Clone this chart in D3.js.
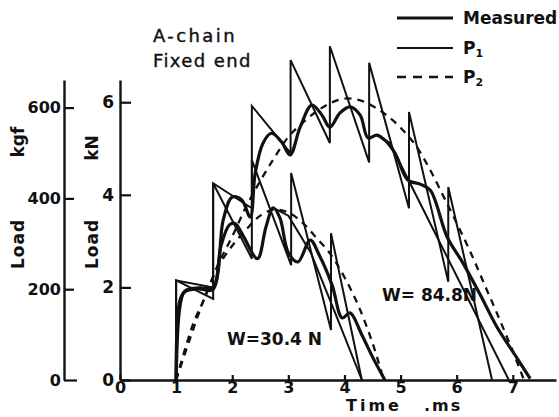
<!DOCTYPE html>
<html>
<head>
<meta charset="utf-8">
<script src="https://cdn.jsdelivr.net/npm/d3@7"></script>
<style>
  body { margin: 0; background: #fff; }
  svg text { font-family: "DejaVu Sans", sans-serif; fill: #111; }
</style>
</head>
<body>
<svg width="559" height="417"></svg>
<script>
// time (ms) and load (kN)
const measured30 = [[1.0,0],[1.07,1.6],[1.15,1.9],[1.4,1.97],[1.65,1.95],[1.8,2.9],[1.95,3.35],[2.05,3.38],
  [2.2,3.1],[2.45,2.62],[2.6,3.3],[2.73,3.72],[2.85,3.5],[3.0,2.75],[3.17,2.55],[3.39,3.02],[3.55,2.7],
  [3.78,2.05],[3.96,1.34],[4.1,1.45],[4.3,1.0],[4.5,0.5],[4.72,0]];
const p1_30 = [[1,0],[1,2.15],[1.66,1.75],[1.66,4.25],[2.35,2.62],[2.35,4.75],[3.05,2.48],[3.05,4.47],
  [3.76,1.08],[3.76,3.17],[4.31,0]];
const p1b_30 = [[2.73,3.72],[3.0,3.55],[3.4,2.75],[3.8,1.55],[4.31,0]];
const p2_30 = [[1,0],[1.25,0.9],[1.5,1.75],[1.75,2.45],[2.0,2.9],[2.25,3.25],[2.5,3.55],[2.75,3.68],
  [3.0,3.62],[3.25,3.4],[3.5,3.07],[3.75,2.72],[4.0,2.22],[4.25,1.6],[4.5,0.8],[4.7,0]];

const measured84 = [[1.0,0],[1.07,1.73],[1.18,1.94],[1.43,1.99],[1.66,2.0],[1.84,3.46],[2.0,3.95],[2.17,3.89],
  [2.32,3.52],[2.41,4.47],[2.55,5.12],[2.7,5.33],[2.88,5.14],[3.03,4.86],[3.21,5.46],[3.42,5.94],[3.6,5.72],
  [3.74,5.46],[3.92,5.77],[4.1,5.9],[4.28,5.72],[4.42,5.23],[4.58,5.29],[4.72,5.18],[4.9,4.9],[5.13,4.32],
  [5.35,4.23],[5.53,4.1],[5.83,3.09],[6.11,2.53],[6.42,1.84],[6.72,1.14],[7.04,0.54],[7.31,0.03]];
const p1_84 = [[1,0],[1,2.15],[1.66,2.0],[1.66,4.25],[2.35,3.71],[2.35,5.92],[3.04,4.9],[3.04,6.91],
  [3.74,5.12],[3.74,7.21],[4.44,4.7],[4.44,6.85],[5.15,3.71],[5.15,5.79],[5.85,2.12],[5.85,4.17],[6.63,0]];
const p1b_84 = [[4.58,5.29],[4.81,5.12],[5.65,3.09],[6.93,0]];
const p2_84 = [[1,0],[1.3,1.2],[1.5,1.75],[1.75,2.5],[2.0,3.1],[2.25,3.75],[2.5,4.3],[2.75,4.8],[3.0,5.25],
  [3.25,5.55],[3.5,5.8],[3.75,5.98],[4.0,6.08],[4.25,6.05],[4.5,5.92],[4.75,5.72],[5.0,5.45],[5.25,5.1],
  [5.5,4.6],[5.75,4.0],[6.0,3.39],[6.25,2.75],[6.5,2.05],[6.75,1.35],[7.0,0.62],[7.2,0]];

const timeTicks = [0,1,2,3,4,5,6,7];
const kNTicks = [0,2,4,6];
const kgfTicks = [0,200,400,600];
const legendItems = ["Measured", "P1", "P2"];

const svg = d3.select("svg");

const x = d3.scaleLinear().domain([0, 7.77]).range([120, 556]);
const y = d3.scaleLinear().domain([0, 6.48]).range([380, 80]);
// 1 kgf = 9.80665 N
const kgf = d3.scaleLinear().domain([0, 6.48 * 1000 / 9.80665]).range([380, 80]);

const bold = sel => sel.attr("font-weight", "bold").attr("font-size", 16);

// axes
const xAxis = svg.append("g").attr("transform", "translate(0,380)")
  .call(d3.axisBottom(x).tickValues(timeTicks).tickSize(-5).tickSizeOuter(0).tickPadding(2));
const yAxis = svg.append("g").attr("transform", "translate(120,0)")
  .call(d3.axisLeft(y).tickValues(kNTicks).tickFormat(d3.format("d")).tickSize(-11).tickSizeOuter(0).tickPadding(6));
const kAxis = svg.append("g").attr("transform", "translate(64,0)")
  .call(d3.axisLeft(kgf).tickValues(kgfTicks).tickSize(-10).tickSizeOuter(0).tickPadding(3));

[xAxis, yAxis, kAxis].forEach(g => {
  g.select(".domain").attr("stroke", "#111").attr("stroke-width", 2.4);
  g.selectAll(".tick line").attr("stroke", "#111").attr("stroke-width", 2.2);
  g.selectAll(".tick text").call(bold).attr("font-family", "DejaVu Sans").attr("fill", "#111");
});
xAxis.selectAll(".tick text").attr("font-size", 16);
yAxis.selectAll(".tick text").attr("font-size", 17);
kAxis.selectAll(".tick").filter(d => d === 0).select("line").attr("x2", 13);

// axis titles
svg.append("text").attr("transform", "translate(24,142) rotate(-90)").attr("text-anchor", "middle")
  .call(bold).attr("font-size", 17).text("kgf");
svg.append("text").attr("transform", "translate(24,244) rotate(-90)").attr("text-anchor", "middle")
  .call(bold).attr("font-size", 17).attr("letter-spacing", 1).text("Load");
svg.append("text").attr("transform", "translate(98,148) rotate(-90)").attr("text-anchor", "middle")
  .call(bold).attr("font-size", 17).text("kN");
svg.append("text").attr("transform", "translate(98,244) rotate(-90)").attr("text-anchor", "middle")
  .call(bold).attr("font-size", 17).attr("letter-spacing", 1).text("Load");
svg.append("text").attr("x", 346).attr("y", 411).call(bold).attr("font-size", 16)
  .attr("letter-spacing", 3).text("Time");
svg.append("text").attr("x", 424).attr("y", 411).call(bold).attr("font-size", 16)
  .attr("letter-spacing", 2).text(".ms");

// titles
svg.append("text").attr("x", 153).attr("y", 42).attr("font-size", 18).attr("font-weight", 500)
  .attr("letter-spacing", 2.4).attr("stroke", "#111").attr("stroke-width", 0.4).text("A-chain");
svg.append("text").attr("x", 153).attr("y", 67).attr("font-size", 18).attr("font-weight", 500)
  .attr("letter-spacing", 1.4).attr("stroke", "#111").attr("stroke-width", 0.4).text("Fixed end");

// curves
const line = d3.line().x(d => x(d[0])).y(d => y(d[1]));
const smooth = d3.line().x(d => x(d[0])).y(d => y(d[1])).curve(d3.curveCatmullRom.alpha(0.5));

const thin = [p1_30, p1_84, p1b_30, p1b_84];
svg.selectAll(".p1").data(thin).enter().append("path").attr("class", "p1")
  .attr("d", line).attr("fill", "none").attr("stroke", "#111").attr("stroke-width", 2)
  .attr("stroke-linejoin", "miter");

svg.selectAll(".p2").data([p2_30, p2_84]).enter().append("path").attr("class", "p2")
  .attr("d", smooth).attr("fill", "none").attr("stroke", "#111").attr("stroke-width", 2.3)
  .attr("stroke-dasharray", "7,6");

svg.selectAll(".meas").data([measured30, measured84]).enter().append("path").attr("class", "meas")
  .attr("d", smooth).attr("fill", "none").attr("stroke", "#111").attr("stroke-width", 3.2);

// W labels
svg.append("text").attr("x", 227).attr("y", 345).call(bold).attr("font-size", 17).text("W=30.4 N");
svg.append("text").attr("x", 382).attr("y", 301).call(bold).attr("font-size", 17).text("W= 84.8N");

// legend
const leg = svg.append("g");
const rowY = [18, 48, 77];
const widths = [2.8, 2.2, 2.3];
legendItems.forEach((name, i) => {
  leg.append("line").attr("x1", 397).attr("x2", 453).attr("y1", rowY[i]).attr("y2", rowY[i])
    .attr("stroke", "#111").attr("stroke-width", widths[i])
    .attr("stroke-dasharray", i === 2 ? "9,7" : null);
  const t = leg.append("text").attr("x", 463).attr("y", rowY[i] + 6).call(bold).attr("font-size", 17);
  if (i === 0) t.text(name);
  else {
    t.append("tspan").text(name[0]);
    t.append("tspan").attr("font-size", 11).attr("dy", 3).text(name[1]);
  }
});
</script>
</body>
</html>
